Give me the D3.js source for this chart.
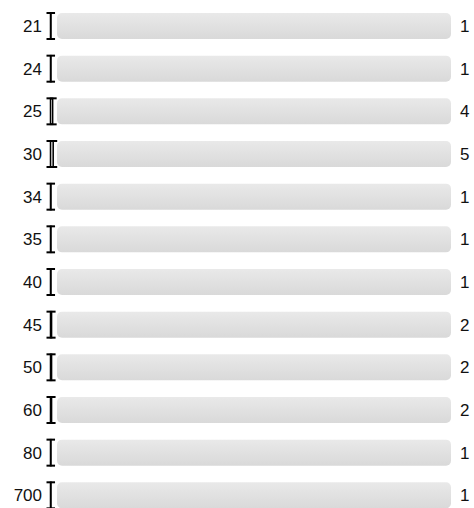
<!DOCTYPE html>
<html>
<head>
<meta charset="utf-8">
<script src="https://cdn.jsdelivr.net/npm/d3@7"></script>
<style>
  body { margin: 0; background: #fff; }
  text { font-family: "Liberation Sans", Arial, sans-serif; }
</style>
</head>
<body>
<div id="chart"></div>
<script>
// categories and counts
var categories = ["21", "24", "25", "30", "34", "35", "40", "45", "50", "60", "80", "700"];
var counts = [1, 1, 4, 5, 1, 1, 1, 2, 2, 2, 1, 1];

var data = categories.map(function(c, i) { return {cat: c, count: counts[i]}; });

var width = 474, height = 508;

var svg = d3.select("#chart").append("svg")
  .attr("width", width)
  .attr("height", height);

var defs = svg.append("defs");
var grad = defs.append("linearGradient")
  .attr("id", "track")
  .attr("x1", 0).attr("y1", 0).attr("x2", 0).attr("y2", 1);
grad.append("stop").attr("offset", "0%").attr("stop-color", "#e9e9e9");
grad.append("stop").attr("offset", "100%").attr("stop-color", "#d9d9d9");

var step = 42.7;
var y = d3.scaleBand()
  .domain(categories)
  .range([13 - 0.2 * step, 13 - 0.2 * step + 12 * step])
  .paddingInner(0.39)
  .paddingOuter(0.2);

// tiny bars: the counts are drawn on a very wide scale
var x = d3.scaleLinear()
  .domain([0, 5])
  .range([0, 2.7]);

var x0 = 50.5, trackLeft = 57, trackRight = 451;

var rows = svg.selectAll(".row")
  .data(data)
  .enter().append("g")
    .attr("class", "row")
    .attr("transform", function(d) { return "translate(0," + y(d.cat) + ")"; });

// grey track
rows.append("rect")
  .attr("x", trackLeft)
  .attr("y", 0)
  .attr("width", trackRight - trackLeft)
  .attr("height", y.bandwidth())
  .attr("rx", 5)
  .attr("ry", 5)
  .style("fill", "url(#track)");

// thin bar
rows.append("rect")
  .attr("x", x0)
  .attr("y", 0)
  .attr("width", function(d) { return x(d.count); })
  .attr("height", y.bandwidth())
  .style("fill", "#eee")
  .style("stroke", "#000")
  .style("stroke-width", 1.5);

// caps
[0, 1].forEach(function(k) {
  rows.append("line")
    .attr("x1", x0 - 4)
    .attr("x2", function(d) { return x0 + x(d.count) + 4; })
    .attr("y1", k * y.bandwidth())
    .attr("y2", k * y.bandwidth())
    .style("stroke", "#000")
    .style("stroke-width", 2);
});

// category labels
rows.append("text")
  .attr("x", 42)
  .attr("y", y.bandwidth() / 2)
  .attr("dy", "0.35em")
  .attr("text-anchor", "end")
  .style("font-size", "17px")
  .style("fill", "#111")
  .text(function(d) { return d.cat; });

// count labels
rows.append("text")
  .attr("x", 460)
  .attr("y", y.bandwidth() / 2)
  .attr("dy", "0.35em")
  .attr("text-anchor", "start")
  .style("font-size", "17px")
  .style("fill", "#111")
  .text(function(d) { return d.count; });
</script>
</body>
</html>
